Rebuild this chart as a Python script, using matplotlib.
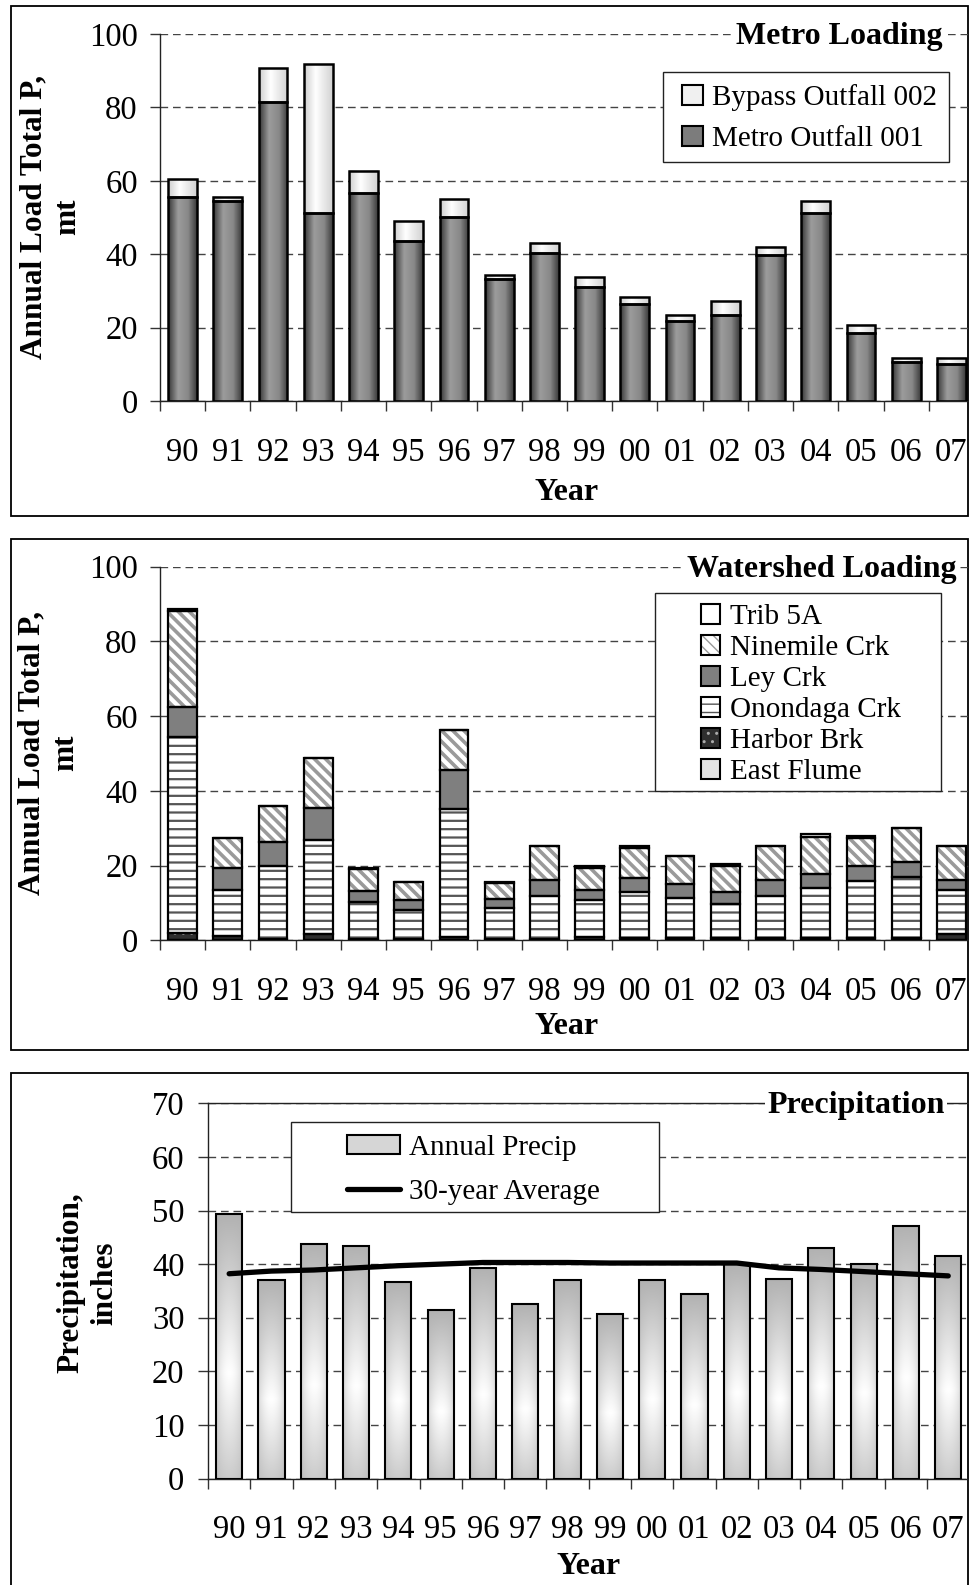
import numpy as np
import matplotlib
matplotlib.use('Agg')
import matplotlib.pyplot as plt
from matplotlib.patches import Patch, Rectangle
from matplotlib.lines import Line2D
from matplotlib.colors import LinearSegmentedColormap
from matplotlib.legend_handler import HandlerTuple

plt.rcParams['font.family'] = ['Liberation Serif', 'DejaVu Serif']

years = ['90', '91', '92', '93', '94', '95', '96', '97', '98', '99',
         '00', '01', '02', '03', '04', '05', '06', '07']

# Metro loading, mt
metro_001 = [55.7, 54.5, 81.6, 51.3, 56.8, 43.7, 50.1, 33.3, 40.2,
             31.1, 26.5, 21.7, 23.4, 39.7, 51.3, 18.4, 10.7, 10.1]
bypass_002 = [4.9, 1.2, 9.0, 40.5, 6.0, 5.3, 4.9, 1.0, 2.9,
              2.7, 1.8, 1.7, 3.8, 2.3, 3.2, 2.2, 1.1, 1.7]

# Watershed loading, mt (stacked bottom -> top)
east_flume = [0.2] * 18
harbor_brk = [1.8, 0.9, 0.3, 1.4, 0.3, 0.3, 0.6, 0.3, 0.3,
              0.6, 0.4, 0.5, 0.5, 0.5, 0.5, 0.5, 0.5, 1.4]
onondaga_crk = [52.4, 12.3, 19.5, 25.3, 9.7, 7.6, 34.3, 8.2, 11.3,
                9.9, 12.3, 10.6, 9.0, 11.1, 13.2, 15.2, 16.3, 11.8]
ley_crk = [8.0, 5.9, 6.4, 8.5, 3.0, 2.6, 10.5, 2.5, 4.3,
           2.7, 3.7, 3.8, 3.2, 4.3, 3.8, 4.0, 3.9, 2.7]
ninemile_crk = [25.7, 8.1, 9.5, 13.4, 6.0, 4.8, 10.6, 4.2, 9.1,
                6.0, 8.2, 7.4, 7.0, 9.1, 10.1, 7.5, 9.1, 9.1]
trib_5a = [0.5, 0.1, 0.1, 0.1, 0.1, 0.1, 0.1, 0.1, 0.1,
           0.6, 0.5, 0.1, 0.5, 0.1, 0.7, 0.6, 0.1, 0.1]

# Precipitation, inches
annual_precip = [49.3, 37.0, 43.7, 43.4, 36.6, 31.4, 39.2, 32.5, 37.0,
                 30.6, 37.0, 34.4, 40.0, 37.3, 43.0, 40.1, 47.1, 41.6]
avg_30yr = [38.2, 38.7, 38.9, 39.3, 39.7, 40.0, 40.3, 40.3, 40.3,
            40.2, 40.2, 40.2, 40.2, 39.3, 39.0, 38.6, 38.2, 37.8]

W, H = 969, 1585
fig = plt.figure(figsize=(W / 100, H / 100), dpi=100)
TICK_FS = 23.5
LAB_FS = 23


def px_rect(l, t, r, b):
    return [l / W, 1 - b / H, (r - l) / W, (b - t) / H]


def fx(x):
    return x / W


def fy(y):
    return 1 - y / H


def style_axes(ax, ymax, ystep, top_spine=False, ypad=9.0, xpad=26):
    ax.set_xlim(-0.5, len(years) - 0.5)
    ax.set_ylim(0, ymax)
    ax.set_yticks(np.arange(0, ymax + 1, ystep))
    ax.set_xticks(np.arange(-0.5, len(years), 1))
    ax.set_xticklabels([])
    ax.set_xticks(np.arange(len(years)), minor=True)
    ax.set_xticklabels(years, minor=True)
    ax.tick_params(axis='x', which='major', direction='out', length=7,
                   width=1, color='#333333')
    ax.tick_params(axis='x', which='minor', length=0, pad=xpad,
                   labelsize=TICK_FS)
    ax.tick_params(axis='y', direction='out', length=7, width=1,
                   color='#333333', pad=ypad, labelsize=TICK_FS)
    ax.yaxis.grid(True, linestyle=(0, (5.5, 3.5)), color='#444444', lw=1)
    ax.set_axisbelow(True)
    ax.spines['right'].set_visible(False)
    ax.spines['top'].set_visible(top_spine)
    for s in ['left', 'bottom', 'top']:
        ax.spines[s].set_color('#222222')
        ax.spines[s].set_linewidth(1)
    ax.patch.set_alpha(0)


def shade_bars(ax, bars, cmap, grad):
    for b in bars:
        x, y, w, h = b.get_x(), b.get_y(), b.get_width(), b.get_height()
        if h <= 0:
            continue
        ax.imshow(grad, extent=(x, x + w, y, y + h), origin='lower',
                  aspect='auto', cmap=cmap, vmin=0, vmax=1,
                  interpolation='bilinear', zorder=2.5)


def hatched_bars(ax, x, vals, bottom, width, face, hatch=None,
                 hcolor='black', hlw=1.0, lw=1.6):
    bars = ax.bar(x, vals, width, bottom=bottom, color=face,
                  edgecolor=hcolor, hatch=hatch, linewidth=0, zorder=3)
    for p in bars:
        if hasattr(p, 'set_hatch_linewidth'):
            p.set_hatch_linewidth(hlw)
    ax.bar(x, vals, width, bottom=bottom, facecolor='none',
           edgecolor='black', linewidth=lw, zorder=3.2)
    return bars


def legend_frame(ax, l, t, r, b):
    ax.add_patch(Rectangle((fx(l), fy(b)), (r - l) / W, (b - t) / H,
                           transform=fig.transFigure, facecolor='white',
                           edgecolor='#222222', lw=1, zorder=4,
                           clip_on=False))


x = np.arange(len(years))

# frames around the three panels
for t, b in [(6, 516.5), (538.7, 1050), (1073.3, 1600)]:
    fig.add_artist(Rectangle((fx(11), fy(b)), (967.5 - 11) / W, (b - t) / H,
                             transform=fig.transFigure, fill=False,
                             ec='black', lw=1.3, zorder=0))

# ---------------- Panel 1: Metro loading
ax1 = fig.add_axes(px_rect(160, 34, 974, 401))
style_axes(ax1, 100, 20)
bw = 0.635
metro_cmap = LinearSegmentedColormap.from_list(
    'metro', [(0, '#363636'), (0.35, '#9c9c9c'), (0.7, '#888888'), (1, '#3c3c3c')])
light_cmap = LinearSegmentedColormap.from_list(
    'light', [(0, '#cdcdcd'), (0.4, '#ffffff'), (1, '#d2d2d2')])
hgrad = np.linspace(0, 1, 64)[None, :]
b_metro = ax1.bar(x, metro_001, bw, facecolor='none', edgecolor='black',
                  linewidth=1.8, zorder=3)
b_bypass = ax1.bar(x, bypass_002, bw, bottom=metro_001, facecolor='none',
                   edgecolor='black', linewidth=1.8, zorder=3)
shade_bars(ax1, b_metro, metro_cmap, hgrad)
shade_bars(ax1, b_bypass, light_cmap, hgrad)
ax1.set_xlim(-0.5, len(years) - 0.5)
ax1.set_ylim(0, 100)
legend_frame(ax1, 663.3, 72.3, 949.3, 162.3)
ax1.legend([Patch(facecolor='#f0f0f0', edgecolor='black', lw=1.5),
            Patch(facecolor='#7c7c7c', edgecolor='black', lw=1.5)],
           ['Bypass Outfall 002', 'Metro Outfall 001'],
           loc='upper left', bbox_to_anchor=(fx(682.3), fy(84)),
           bbox_transform=fig.transFigure, borderaxespad=0, borderpad=0,
           fontsize=21, handlelength=0.7, handleheight=0.7,
           handletextpad=0.33, labelspacing=0.5, frameon=False)

# ---------------- Panel 2: Watershed loading
ax2 = fig.add_axes(px_rect(160, 566.7, 974, 940.4))
style_axes(ax2, 100, 20)
stack = [
    (east_flume, '#e4e4e4', None, 'black', 1.0),
    (harbor_brk, '#2e2e2e', '..', '#aaaaaa', 1.0),
    (onondaga_crk, 'white', '--', '#555555', 1.6),
    (ley_crk, '#7f7f7f', None, 'black', 1.0),
    (ninemile_crk, 'white', '\\\\\\', '#9a9a9a', 2.6),
    (trib_5a, 'white', None, 'black', 1.0),
]
bottom = np.zeros(len(years))
for vals, face, hatch, hcol, hlw in stack:
    hatched_bars(ax2, x, vals, bottom, bw, face, hatch, hcol, hlw)
    bottom = bottom + np.array(vals)


def leg_handle(face, hatch, hcol):
    return (Patch(facecolor=face, edgecolor=hcol, hatch=hatch, lw=0),
            Patch(facecolor='none', edgecolor='black', lw=1.5))


names2 = ['Trib 5A', 'Ninemile Crk', 'Ley Crk', 'Onondaga Crk',
          'Harbor Brk', 'East Flume']
handles2 = [leg_handle(s[1], s[2], s[3]) for s in stack[::-1]]
legend_frame(ax2, 655, 592.7, 941, 791)
ax2.legend(handles2, names2, handler_map={tuple: HandlerTuple(ndivide=1)},
           loc='upper left', bbox_to_anchor=(fx(700.7), fy(604)),
           bbox_transform=fig.transFigure, borderaxespad=0, borderpad=0,
           fontsize=21, handlelength=0.66, handleheight=0.66,
           handletextpad=0.33, labelspacing=0.17, frameon=False)

# ---------------- Panel 3: Precipitation
ax3 = fig.add_axes(px_rect(208, 1103.3, 969.4, 1478.5))
style_axes(ax3, 70, 10, top_spine=True, ypad=10.0)
pw = 0.62
b_prec = ax3.bar(x, annual_precip, pw, facecolor='none', edgecolor='black',
                 linewidth=1.5, zorder=3)
prec_cmap = LinearSegmentedColormap.from_list('prec', ['#b2b2b2', '#ffffff'])
tt = np.linspace(0, 1, 120)[:, None]
ss = np.linspace(0, 1, 40)[None, :]
pgrad = (1 - np.abs(tt - 0.4) / 0.6) * (1 - 0.5 * np.abs(2 * ss - 1) ** 2)
shade_bars(ax3, b_prec, prec_cmap, pgrad)
ax3.plot(x, avg_30yr, color='black', lw=3.8, solid_capstyle='round',
         zorder=5)
ax3.set_xlim(-0.5, len(years) - 0.5)
ax3.set_ylim(0, 70)
legend_frame(ax3, 290.7, 1121.7, 659, 1211.7)
ax3.legend([Patch(facecolor='#d6d6d6', edgecolor='black', lw=1.5),
            Line2D([], [], color='black', lw=3.8, solid_capstyle='round')],
           ['Annual Precip', '30-year Average'],
           loc='upper left', bbox_to_anchor=(fx(346.7), fy(1135)),
           bbox_transform=fig.transFigure, borderaxespad=0, borderpad=0,
           fontsize=21, handlelength=1.82, handleheight=0.62,
           handletextpad=0.3, labelspacing=0.62, frameon=False)

# titles
for xr, yc, txt in [(943, 34, 'Metro Loading'),
                    (956.7, 566.7, 'Watershed Loading'),
                    (945, 1103.3, 'Precipitation')]:
    fig.text(fx(xr), fy(yc + 10), txt, ha='right', va='baseline',
             fontsize=LAB_FS, fontweight='bold', zorder=5,
             bbox=dict(facecolor='white', edgecolor='none', pad=1.5))

# axis labels
for xc, yc in [(566.7, 492), (567, 1027), (589, 1566)]:
    fig.text(fx(xc), fy(yc), 'Year', ha='center', va='center',
             fontsize=LAB_FS, fontweight='bold')
for xc, yc, txt in [(51, 217, 'Annual Load Total P,\nmt'),
                    (49, 753, 'Annual Load Total P,\nmt'),
                    (88, 1283, 'Precipitation,\ninches')]:
    fig.text(fx(xc), fy(yc), txt, rotation=90, ha='center', va='center',
             fontsize=22.5, fontweight='bold', multialignment='center')

fig.savefig('out.png', dpi=100)
